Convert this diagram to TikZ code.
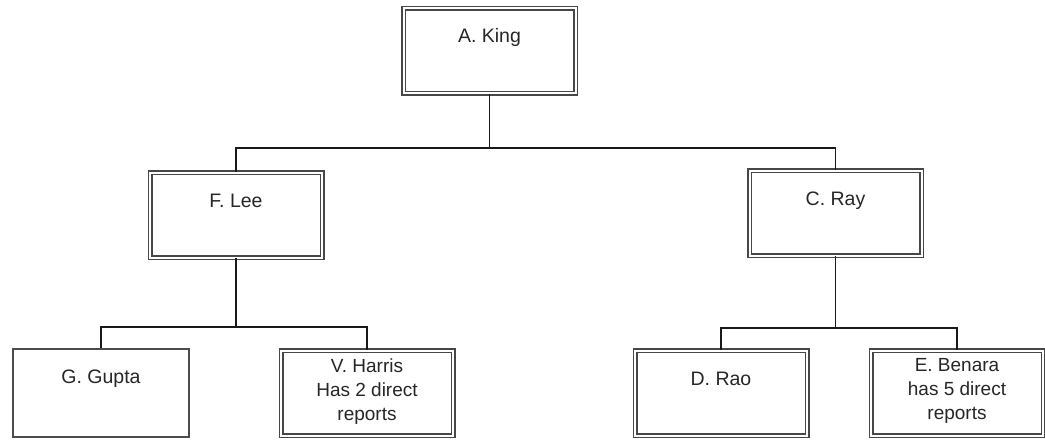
\documentclass[tikz,border=0pt]{standalone}
\usepackage{fontspec}
\setmainfont{Liberation Sans}
\begin{document}
\begin{tikzpicture}[x=1pt,y=-1pt,
  dbox/.style={draw=black!72, line width=1.5pt, double=white, double distance=2pt,
    minimum width=172pt, minimum height=85pt, inner sep=0pt},
  sbox/.style={draw=black!70, line width=2.2pt,
    minimum width=176pt, minimum height=88pt, inner sep=0pt},
  one/.style={anchor=base, yshift=-35.6pt, inner sep=0pt, text=black!85,
    font=\fontsize{19.5}{24}\selectfont},
  multi/.style={anchor=north, yshift=-8.6pt, inner sep=0pt, align=center, text=black!85,
    font=\fontsize{19}{24}\selectfont},
  conn/.style={draw=black!90, line width=1.4pt}]
\useasboundingbox (0,0) rectangle (1045,440);
\node[dbox, label={[one]north:A. King}] (king) at (489.5,50.5) {};
\node[dbox, label={[one]north:F. Lee}] (lee) at (236,215) {};
\node[dbox, label={[one]north:C. Ray}] (ray) at (835.5,213) {};
\node[sbox, label={[one]north:G. Gupta}] (gupta) at (101,393) {};
\node[dbox, label={[multi]north:V. Harris\\Has 2 direct\\reports}] (harris) at (367,393) {};
\node[dbox, label={[one]north:D. Rao}] (rao) at (721,393) {};
\node[dbox, label={[multi]north:E. Benara\\has 5 direct\\reports}] (benara) at (957,393) {};
\coordinate (j1) at (489.5,148);
\coordinate (j2) at (236,327);
\coordinate (j3) at (835.5,328);
\draw[conn] (king.south) -- (j1);
\draw[conn] (j1) -| (lee.north);
\draw[conn] (j1) -| (ray.north);
\draw[conn] (lee.south) -- (j2);
\draw[conn] (j2) -| (gupta.north);
\draw[conn] (j2) -| (harris.north);
\draw[conn] (ray.south) -- (j3);
\draw[conn] (j3) -| (rao.north);
\draw[conn] (j3) -| (benara.north);
\end{tikzpicture}
\end{document}
